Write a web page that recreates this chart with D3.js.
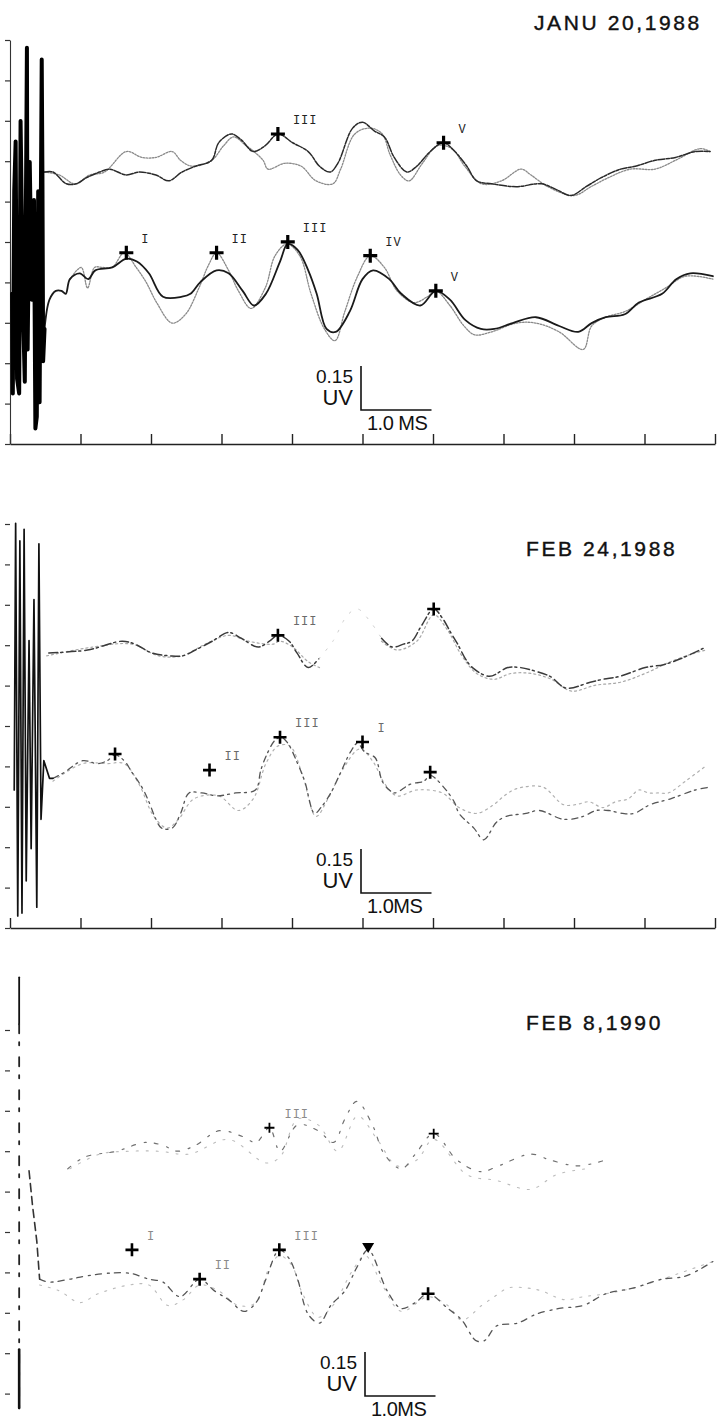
<!DOCTYPE html>
<html><head><meta charset="utf-8">
<script src="https://cdn.jsdelivr.net/npm/d3@7/dist/d3.min.js"></script>
<style>body{margin:0;background:#fff}svg{display:block}</style>
</head><body><svg id="c" width="728" height="1428"></svg>
<script>
// ---------- DATA (time in ms, amplitude in µV relative to row baseline) ----------
const titles = ["JANU 20,1988", "FEB 24,1988", "FEB 8,1990"];
const msTicks = [0,1,2,3,4,5,6,7,8,9,10];
const sideTicks = [0,1,2,3,4,5,6,7,8,9,10];
const ampText = "0.15", ampUnit = "UV";
const timeTexts = ["1.0 MS", "1.0MS", "1.0MS"];
const scaleAmp = 0.15, scaleTime = 1.0;

// Panel 1 (JANU 20,1988)
const p1UpperA = [[0.49,0.01],[0.61,0.01],[0.80,-0.03],[0.94,-0.03],[1.08,-0.01],[1.27,0.01],[1.41,0.02],[1.65,0.00],[1.83,0.01],[2.07,0.00],[2.25,-0.02],[2.44,0.01],[2.63,0.03],[2.86,0.05],[2.96,0.11],[3.14,0.14],[3.28,0.12],[3.45,0.08],[3.62,0.10],[3.80,0.14],[4.01,0.11],[4.23,0.08],[4.39,0.03],[4.54,0.01],[4.65,0.04],[4.86,0.16],[5.00,0.18],[5.17,0.15],[5.31,0.13],[5.45,0.06],[5.63,0.01],[5.77,0.03],[5.96,0.08],[6.15,0.11],[6.31,0.08],[6.48,0.03],[6.62,-0.02],[6.83,-0.03],[7.18,-0.04],[7.54,-0.03],[7.75,-0.05],[7.96,-0.07],[8.17,-0.04],[8.38,-0.01],[8.66,0.02],[8.87,0.03],[9.15,0.05],[9.44,0.06],[9.72,0.08],[9.93,0.08]];
const p1UpperB = [[0.49,0.01],[0.70,0.00],[0.92,-0.03],[1.13,0.00],[1.34,0.01],[1.65,0.08],[1.87,0.06],[2.07,0.06],[2.30,0.08],[2.42,0.05],[2.58,0.03],[2.86,0.05],[3.03,0.10],[3.17,0.13],[3.35,0.10],[3.46,0.08],[3.59,0.05],[3.66,0.02],[3.90,0.04],[4.13,0.03],[4.34,-0.02],[4.58,-0.03],[4.69,0.02],[4.89,0.14],[5.11,0.16],[5.28,0.14],[5.39,0.07],[5.54,0.00],[5.66,-0.02],[5.85,0.04],[6.06,0.10],[6.27,0.09],[6.45,0.03],[6.69,-0.03],[6.97,-0.02],[7.25,0.02],[7.39,0.00],[7.63,-0.04],[8.00,-0.07],[8.24,-0.04],[8.48,-0.01],[8.80,0.02],[9.15,0.02],[9.44,0.05],[9.79,0.09],[9.93,0.08]];
const p1LowerA = [[0.49,-0.15],[0.56,-0.05],[0.65,-0.02],[0.73,-0.02],[0.79,-0.03],[0.85,0.02],[0.99,0.04],[1.11,0.02],[1.21,0.05],[1.45,0.06],[1.65,0.09],[1.80,0.08],[1.97,0.04],[2.17,-0.04],[2.44,-0.04],[2.56,-0.03],[2.70,0.01],[2.93,0.05],[3.10,0.04],[3.30,-0.02],[3.46,-0.07],[3.63,-0.03],[3.83,0.08],[3.94,0.14],[4.08,0.12],[4.23,0.05],[4.35,-0.03],[4.49,-0.15],[4.62,-0.16],[4.82,-0.09],[5.00,0.02],[5.15,0.05],[5.38,0.02],[5.55,-0.03],[5.82,-0.07],[6.04,-0.02],[6.24,-0.05],[6.46,-0.12],[6.68,-0.15],[6.87,-0.15],[7.13,-0.13],[7.46,-0.11],[7.79,-0.14],[8.06,-0.16],[8.25,-0.13],[8.45,-0.11],[8.72,-0.10],[8.92,-0.06],[9.25,-0.03],[9.45,0.02],[9.65,0.04],[9.97,0.03]];
const p1LowerB = [[0.85,0.02],[1.01,0.06],[1.10,-0.01],[1.20,0.06],[1.31,0.06],[1.45,0.06],[1.62,0.11],[1.79,0.06],[1.93,0.01],[2.08,-0.06],[2.30,-0.13],[2.49,-0.10],[2.68,-0.01],[2.82,0.07],[2.93,0.11],[3.10,0.05],[3.24,-0.02],[3.42,-0.08],[3.62,-0.01],[3.76,0.10],[3.93,0.14],[4.11,0.10],[4.27,-0.03],[4.46,-0.15],[4.61,-0.19],[4.75,-0.09],[4.93,0.03],[5.11,0.10],[5.31,0.06],[5.49,-0.02],[5.73,-0.06],[5.92,-0.04],[6.04,-0.02],[6.24,-0.07],[6.44,-0.14],[6.59,-0.17],[6.83,-0.16],[7.18,-0.13],[7.46,-0.13],[7.79,-0.16],[8.13,-0.22],[8.25,-0.14],[8.45,-0.11],[8.73,-0.09],[9.01,-0.05],[9.30,-0.01],[9.58,0.03],[9.97,0.02]];
const p1Artifact = [[0.03,-0.03],[0.04,-0.37],[0.06,0.32],[0.08,0.49],[0.10,-0.32],[0.13,-0.37],[0.15,0.56],[0.17,0.20],[0.18,-0.05],[0.21,-0.33],[0.24,0.81],[0.25,-0.22],[0.28,0.42],[0.31,-0.05],[0.34,0.29],[0.36,-0.49],[0.38,-0.45],[0.40,0.32],[0.42,-0.40],[0.45,0.77],[0.46,0.37],[0.47,-0.26],[0.49,-0.15]];
const p1ArtifactBase = [[0.03,-0.03],[0.39,-0.03]];
const p1UpperPeaks = [[3.80,0.14,"III"],[6.15,0.11,"V"]];
const p1LowerPeaks = [[1.65,0.11,"I"],[2.93,0.11,"II"],[3.94,0.147,"III"],[5.11,0.10,"IV"],[6.04,-0.02,"V"]];

// Panel 2 (FEB 24,1988) — upper traces split where the print fades out
const p2UpperA = [[0.55,-0.01],[1.10,0.00],[1.59,0.03],[1.77,0.02],[2.01,-0.01],[2.27,-0.02],[2.45,-0.02],[2.63,0.00],[2.87,0.03],[3.10,0.06],[3.28,0.04],[3.52,0.01],[3.68,0.03],[3.80,0.05],[3.96,0.03],[4.07,-0.01],[4.23,-0.06],[4.38,-0.03]];
const p2UpperAFaint = [[4.38,-0.03],[4.58,0.03],[4.79,0.12],[4.93,0.14],[5.10,0.10],[5.27,0.04]];
const p2UpperA2 = [[5.27,0.04],[5.42,0.01],[5.58,0.02],[5.70,0.03],[5.83,0.08],[6.01,0.14],[6.13,0.11],[6.25,0.06],[6.35,0.02],[6.46,-0.03],[6.56,-0.06],[6.80,-0.09],[7.06,-0.06],[7.24,-0.06],[7.42,-0.07],[7.66,-0.09],[7.89,-0.13],[8.23,-0.11],[8.41,-0.10],[8.65,-0.09],[9.01,-0.06],[9.27,-0.05],[9.51,-0.03],[9.87,0.01]];
const p2UpperB = [[0.52,-0.02],[1.17,0.01],[1.73,0.02],[2.11,-0.02],[2.44,-0.02],[2.77,0.02],[3.10,0.05],[3.38,0.03],[3.73,0.02],[3.83,0.03],[4.01,0.01],[4.23,-0.04],[4.39,-0.06]];
const p2UpperB2 = [[5.27,0.03],[5.49,0.00],[5.77,0.03],[6.01,0.12],[6.20,0.07],[6.41,-0.02],[6.62,-0.08],[6.86,-0.10],[7.11,-0.08],[7.39,-0.08],[7.68,-0.10],[7.96,-0.14],[8.31,-0.12],[8.66,-0.11],[9.01,-0.08],[9.37,-0.04],[9.72,-0.01],[9.87,0.00]];
const p2LowerA = [[0.61,0.04],[0.77,0.06],[1.03,0.10],[1.24,0.09],[1.38,0.10],[1.49,0.12],[1.62,0.10],[1.73,0.06],[1.87,0.01],[1.97,-0.04],[2.07,-0.10],[2.15,-0.13],[2.30,-0.13],[2.42,-0.08],[2.54,-0.01],[2.72,-0.01],[2.93,-0.02],[3.20,-0.01],[3.48,0.00],[3.56,0.07],[3.66,0.13],[3.76,0.17],[3.85,0.18],[3.94,0.16],[4.08,0.09],[4.18,0.03],[4.32,-0.08],[4.41,-0.06],[4.55,-0.01],[4.69,0.06],[4.83,0.13],[4.93,0.16],[5.03,0.13],[5.18,0.11],[5.28,0.03],[5.38,0.00],[5.46,-0.01],[5.68,0.02],[5.87,0.03],[5.96,0.05],[6.15,0.01],[6.30,-0.04],[6.37,-0.08],[6.58,-0.13],[6.72,-0.17],[6.90,-0.11],[7.04,-0.09],[7.32,-0.08],[7.51,-0.07],[7.85,-0.10],[8.13,-0.09],[8.31,-0.07],[8.49,-0.07],[8.69,-0.08],[8.85,-0.08],[9.08,-0.05],[9.37,-0.03],[9.72,0.00],[9.93,0.01]];
const p2LowerB = [[0.61,0.03],[1.03,0.09],[1.38,0.09],[1.62,0.09],[1.83,0.02],[2.04,-0.09],[2.23,-0.13],[2.39,-0.10],[2.61,-0.03],[2.96,-0.02],[3.24,-0.07],[3.45,-0.03],[3.63,0.09],[3.80,0.15],[3.97,0.15],[4.15,0.05],[4.34,-0.09],[4.51,-0.03],[4.72,0.07],[4.96,0.14],[5.14,0.10],[5.32,0.02],[5.49,-0.02],[5.77,0.00],[6.13,-0.01],[6.37,-0.06],[6.62,-0.08],[6.86,-0.05],[7.01,-0.02],[7.14,0.00],[7.28,0.01],[7.56,0.01],[7.85,-0.05],[8.03,-0.05],[8.21,-0.04],[8.41,-0.06],[8.59,-0.04],[8.77,-0.03],[8.92,0.00],[9.06,-0.01],[9.20,-0.01],[9.34,-0.01],[9.58,0.03],[9.86,0.08]];
const p2Artifact = [[0.06,0.00],[0.08,0.91],[0.11,-0.43],[0.14,0.85],[0.17,-0.42],[0.20,0.89],[0.23,-0.31],[0.27,0.51],[0.30,-0.20],[0.34,0.65],[0.38,-0.40],[0.41,0.84],[0.44,-0.10],[0.48,0.10],[0.56,0.04],[0.61,0.04]];
const p2UpperPeaks = [[3.80,0.05,"III"],[6.01,0.14,""]];
const p2LowerPeaks = [[1.49,0.123,""],[2.83,0.068,"II"],[3.83,0.18,"III"],[5.00,0.164,"I"],[5.96,0.061,""]];

// Panel 3 (FEB 8,1990)
const p3UpperA = [[0.82,-0.03],[1.06,0.01],[1.51,0.03],[1.92,0.06],[2.17,0.05],[2.37,0.03],[2.63,0.05],[2.97,0.10],[3.30,0.08],[3.49,0.06],[3.68,0.11],[3.83,0.03],[4.08,0.12],[4.37,0.10],[4.59,0.06],[4.75,0.14],[4.92,0.20],[5.14,0.12],[5.31,0.02],[5.55,-0.03],[5.75,0.02],[6.01,0.09],[6.34,0.00],[6.68,-0.04],[6.93,-0.02],[7.39,0.02],[7.66,0.00],[8.06,-0.02],[8.45,0.00]];
const p3UpperB = [[0.85,-0.03],[1.27,0.02],[1.69,0.03],[2.11,0.03],[2.54,0.02],[3.10,0.07],[3.63,-0.01],[3.83,0.01],[4.08,0.14],[4.37,0.12],[4.65,0.03],[4.93,0.15],[5.21,0.07],[5.49,-0.02],[5.77,0.00],[6.01,0.07],[6.48,-0.05],[6.90,-0.07],[7.39,-0.10],[7.75,-0.05],[8.17,-0.03]];
const p3LowerA = [[0.42,0.02],[0.55,0.01],[0.85,0.02],[1.06,0.03],[1.38,0.04],[1.70,0.04],[1.97,0.02],[2.17,0.01],[2.41,-0.04],[2.69,0.02],[2.90,-0.02],[3.10,-0.05],[3.32,-0.09],[3.49,-0.06],[3.63,0.02],[3.82,0.12],[3.96,0.09],[4.08,0.02],[4.23,-0.10],[4.39,-0.13],[4.55,-0.07],[4.75,-0.02],[4.92,0.06],[5.08,0.12],[5.35,-0.02],[5.55,-0.08],[5.75,-0.06],[5.93,-0.03],[6.21,-0.08],[6.41,-0.12],[6.61,-0.19],[6.73,-0.19],[6.90,-0.14],[7.20,-0.13],[7.46,-0.10],[7.79,-0.08],[8.13,-0.07],[8.45,-0.03],[8.85,-0.01],[9.25,0.02],[9.58,0.03],[9.97,0.08]];
const p3LowerB = [[0.42,0.00],[0.70,-0.02],[0.99,-0.06],[1.25,-0.03],[1.69,0.00],[1.97,0.00],[2.24,-0.07],[2.46,-0.05],[2.69,0.00],[2.96,-0.02],[3.24,-0.07],[3.49,-0.06],[3.66,0.05],[3.82,0.10],[3.99,0.07],[4.15,-0.03],[4.37,-0.11],[4.58,-0.07],[4.86,0.05],[5.04,0.10],[5.28,0.00],[5.55,-0.09],[5.93,-0.04],[6.21,-0.07],[6.41,-0.12],[6.69,-0.07],[6.87,-0.04],[7.07,-0.01],[7.32,-0.01],[7.54,-0.02],[7.86,-0.05],[8.13,-0.04],[8.45,-0.03],[8.85,-0.01],[9.25,0.02],[9.97,0.08]];
const p3SpikeSolid = [[0.13,1.05],[0.13,0.89]];
const p3SpikeDashed = [[0.13,0.89],[0.13,-0.46]];
const p3SpikeLow = [[0.13,-0.22],[0.13,-0.42]];
const p3Approach = [[0.27,0.39],[0.32,0.27],[0.38,0.15],[0.42,0.02]];
const p3UpperPeaks = [[3.68,0.11,"III"],[6.01,0.09,""]];
const p3LowerPeaks = [[1.73,0.12,"I"],[2.69,0.02,"II"],[3.82,0.12,"III"],[5.93,-0.03,""]];
const p3LowerTriangles = [[5.08,0.13]];

// ---------- LAYOUT / STYLE ----------
const PX_PER_UV = 293;
const svg = d3.select("#c");
svg.append("rect").attr("width",728).attr("height",1428).attr("fill","#fff");

const panels = [
  { title: titles[0], titleX: 534, titleY: 30, axisY: 444, axisVisible: true, sideLine: true,
    bar: {x: 361, y: 410}, time: timeTexts[0], labelColor: "#222",
    rows: [
      { y0: 175, traces: [
          {d: p1UpperB, stroke: "#8a8a8a", w: 1.3, dash: "1.6 1.4"},
          {d: p1UpperA, stroke: "#2a2a2a", w: 1.5, dash: "7 1.5 3 1.5"} ],
        peaks: p1UpperPeaks, plus: {r: 7, w: 3.2} },
      { y0: 285, traces: [
          {d: p1LowerB, stroke: "#8a8a8a", w: 1.3, dash: "1.6 1.4"},
          {d: p1LowerA, stroke: "#1a1a1a", w: 1.8, dash: null},
          {d: p1Artifact, stroke: "#000", w: 4, dash: null, linear: true},
          {d: p1ArtifactBase, stroke: "#000", w: 1.6, dash: null, linear: true} ],
        peaks: p1LowerPeaks, plus: {r: 7, w: 3.2} }
    ] },
  { title: titles[1], titleX: 526, titleY: 556, axisY: 928, axisVisible: true, sideLine: false,
    bar: {x: 361, y: 893}, time: timeTexts[1], labelColor: "#6a6a6a",
    rows: [
      { y0: 650, traces: [
          {d: p2UpperB, stroke: "#a8a8a8", w: 1.2, dash: "2 3"},
          {d: p2UpperB2, stroke: "#a8a8a8", w: 1.2, dash: "2 3"},
          {d: p2UpperA, stroke: "#3a3a3a", w: 1.5, dash: "9 3 2 4"},
          {d: p2UpperAFaint, stroke: "#d0d0d0", w: 1, dash: "2 9"},
          {d: p2UpperA2, stroke: "#3a3a3a", w: 1.5, dash: "9 3 2 4"} ],
        peaks: p2UpperPeaks, plus: {r: 6.5, w: 2.6} },
      { y0: 790, traces: [
          {d: p2LowerB, stroke: "#b0b0b0", w: 1.2, dash: "2 4"},
          {d: p2LowerA, stroke: "#555", w: 1.3, dash: "6 4 2 5"},
          {d: p2Artifact, stroke: "#111", w: 1.7, dash: null, linear: true} ],
        peaks: p2LowerPeaks, plus: {r: 6.5, w: 2.6} }
    ] },
  { title: titles[2], titleX: 526, titleY: 1030, axisY: 1434, axisVisible: false, sideLine: false,
    bar: {x: 365, y: 1396}, time: timeTexts[2], labelColor: "#8a8a8a",
    rows: [
      { y0: 1160, traces: [
          {d: p3UpperB, stroke: "#bbbbbb", w: 1.1, dash: "2 8"},
          {d: p3UpperA, stroke: "#707070", w: 1.2, dash: "4 9 2 8"} ],
        peaks: p3UpperPeaks, plus: {r: 5, w: 1.8} },
      { y0: 1285, traces: [
          {d: p3LowerB, stroke: "#bbbbbb", w: 1.1, dash: "2 7"},
          {d: p3LowerA, stroke: "#555", w: 1.3, dash: "6 6 2 5"},
          {d: p3SpikeSolid, stroke: "#111", w: 1.8, dash: null, linear: true},
          {d: p3SpikeDashed, stroke: "#222", w: 1.8, dash: "9 9 3 12", linear: true},
          {d: p3SpikeLow, stroke: "#111", w: 2.6, dash: null, linear: true},
          {d: p3Approach, stroke: "#333", w: 1.6, dash: "8 5", linear: true} ],
        peaks: p3LowerPeaks, plus: {r: 6.5, w: 2.6}, triangles: p3LowerTriangles }
    ] }
];

const x = d3.scaleLinear().domain([0, 10]).range([10, 715]);

panels.forEach((p) => {
  const g = svg.append("g");
  if (p.axisVisible) {
    const ax = g.append("g").attr("transform", `translate(0,${p.axisY})`)
      .call(d3.axisBottom(x).tickValues(msTicks).tickSizeInner(-10).tickSizeOuter(0).tickFormat(""));
    ax.selectAll("path,line").attr("stroke", "#222").attr("stroke-width", 1.4);
  }
  const side = d3.scaleLinear().domain([0, 10]).range([p.axisY, p.axisY - 404]);
  const sa = g.append("g").attr("transform", "translate(10,0)")
    .call(d3.axisLeft(side).tickValues(sideTicks).tickSizeInner(5).tickSizeOuter(0).tickFormat(""));
  sa.selectAll("line").attr("stroke", "#333").attr("stroke-width", 1.2);
  sa.select(".domain").attr("stroke", p.sideLine ? "#333" : "none").attr("stroke-width", 1.1);

  g.append("text").attr("x", p.titleX).attr("y", p.titleY).text(p.title)
    .attr("font-family", "Liberation Sans, Arial, sans-serif").attr("font-size", 21)
    .attr("letter-spacing", 2.6).attr("fill", "#111").attr("stroke", "#111").attr("stroke-width", 0.4);

  p.rows.forEach((r) => {
    const y = d3.scaleLinear().domain([0, 1]).range([r.y0, r.y0 - PX_PER_UV]);
    r.traces.forEach((t) => {
      const line = d3.line().x(d => x(d[0])).y(d => y(d[1]))
        .curve(t.linear ? d3.curveLinear : d3.curveCatmullRom.alpha(0.5));
      g.append("path").attr("d", line(t.d)).attr("fill", "none")
        .attr("stroke", t.stroke).attr("stroke-width", t.w)
        .attr("stroke-linejoin", "round").attr("stroke-linecap", "round")
        .attr("stroke-dasharray", t.dash);
    });
    r.peaks.forEach((pk) => {
      const cx = x(pk[0]), cy = y(pk[1]), s = r.plus.r;
      g.append("path").attr("d", `M${cx - s},${cy}H${cx + s}M${cx},${cy - s}V${cy + s}`)
        .attr("stroke", "#000").attr("stroke-width", r.plus.w).attr("fill", "none");
      if (pk[2]) {
        g.append("text").attr("x", cx + 15).attr("y", cy - 10).text(pk[2])
          .attr("font-family", "Liberation Mono, DejaVu Sans Mono, monospace").attr("font-size", 12)
          .attr("letter-spacing", 1).attr("fill", p.labelColor);
      }
    });
    (r.triangles || []).forEach((tr) => {
      const cx = x(tr[0]), cy = y(tr[1]);
      g.append("path").attr("d", `M${cx - 6},${cy - 4}H${cx + 6}L${cx},${cy + 6}Z`).attr("fill", "#000");
    });
  });

  const yRef = d3.scaleLinear().domain([0, 1]).range([0, -PX_PER_UV]);
  const vLen = Math.abs(yRef(scaleAmp));
  const hLen = x(scaleTime) - x(0);
  const bx = p.bar.x, by = p.bar.y;
  g.append("path").attr("d", `M${bx},${by - vLen}V${by}H${bx + hLen}`)
    .attr("fill", "none").attr("stroke", "#111").attr("stroke-width", 1.6);
  const tf = "Liberation Sans Narrow, Liberation Sans, Arial, sans-serif";
  g.append("text").attr("x", bx - 8).attr("y", by - 27).attr("text-anchor", "end").text(ampText)
    .attr("font-family", tf).attr("font-size", 19).attr("fill", "#111");
  g.append("text").attr("x", bx - 8).attr("y", by - 5).attr("text-anchor", "end").text(ampUnit)
    .attr("font-family", tf).attr("font-size", 22).attr("fill", "#111");
  g.append("text").attr("x", bx + 6).attr("y", by + 20).text(p.time)
    .attr("font-family", tf).attr("font-size", 20).attr("letter-spacing", -0.5).attr("fill", "#111");
});
</script></body></html>
